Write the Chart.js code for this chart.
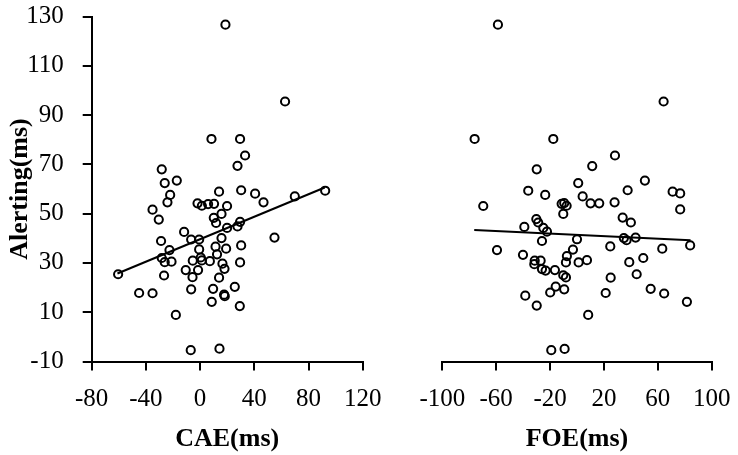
<!DOCTYPE html>
<html>
<head>
<meta charset="utf-8">
<script src="https://cdn.jsdelivr.net/npm/chart.js@4.4.1/dist/chart.umd.min.js"></script>
<style>
  html, body { margin: 0; padding: 0; background: #fff; }
  #wrap { position: relative; width: 738px; height: 455px; overflow: hidden; }
  canvas { position: absolute; top: 0; }
</style>
</head>
<body>
<div id="wrap">
  <canvas id="left" width="400" height="455" style="left:0px"></canvas>
  <canvas id="right" width="338" height="455" style="left:400px"></canvas>
</div>
<script>
// ---- Data ----
const yAxisTitle = "Alerting(ms)";
const caeTitle = "CAE(ms)";
const foeTitle = "FOE(ms)";

const yRange = [-10, 130];
const yStep = 20;
const caeRange = [-80, 120];
const caeStep = 40;
const foeRange = [-100, 100];
const foeStep = 40;

const caeX = [18.7, 62.7, 8.4, 29.5, 33.2, 27.6, -28.3, -17.2, -26.1, -22.1, 14.0, 30.3, 40.6, 69.9, 92.3,
  46.8, -24.1, -35.1, -30.5, -1.9, 1.3, 5.9, 10.3, 19.9, 15.8, 10.1, 11.8, 29.5, 27.6, 19.9,
  -11.8, -6.6, -0.7, -28.8, 15.8, 54.9, 30.3, 11.4, 19.2, -22.6, -0.7, 12.5, 0.5, -28.3, -26.1,
  -21.1, -5.4, 1.3, 7.2, 16.5, 29.5, -60.5, -10.6, -1.5, 18.0, -26.6, -5.6, 14.0, 25.6, 9.6,
  -6.6, -45.0, -35.1, 17.7, 18.2, 8.6, 29.3, -17.9, -6.9, 14.3];
const caeY = [126.7, 95.5, 80.3, 80.3, 73.6, 69.4, 68.0, 63.4, 62.4, 57.6, 58.9, 59.5, 58.1, 57.0, 59.3,
  54.6, 54.6, 51.6, 47.6, 54.2, 53.2, 53.9, 54.0, 53.1, 49.9, 48.3, 46.2, 46.7, 44.8, 44.2,
  42.6, 39.5, 39.5, 38.9, 40.1, 40.3, 37.1, 36.6, 35.8, 35.2, 35.5, 33.5, 32.2, 32.0, 30.3,
  30.5, 30.9, 31.0, 30.7, 29.7, 30.2, 25.4, 27.1, 27.1, 27.6, 24.9, 24.2, 24.0, 20.3, 19.5,
  19.3, 17.8, 17.7, 17.1, 16.5, 14.2, 12.5, 8.9, -5.4, -4.8];

const foeX = [-58.7, 64.3, -76.0, -17.6, 28.2, 11.3, -29.9, 50.4, 0.9, -36.2, -23.6, 4.2, 37.6, 71.0, 76.6,
  -69.6, -11.4, -9.5, -7.7, -10.2, 10.1, 16.5, 27.9, 76.6, -30.2, -28.8, -39.1, -25.0, -22.3, 33.9,
  40.0, -26.0, 0.0, 34.8, 36.8, 43.5, 84.0, -59.4, 24.7, 63.3, -3.0, -40.1, -7.5, 49.2, -31.4,
  -27.0, -31.7, -8.2, 1.2, 7.4, 38.8, -26.0, -23.3, -16.4, -10.2, -8.2, 44.3, 25.0, 54.7, -15.8,
  -9.5, -19.9, 21.3, 64.7, -38.4, -29.9, 81.6, 8.3, -19.1, -9.2];
const foeY = [126.7, 95.5, 80.3, 80.3, 73.6, 69.3, 68.0, 63.4, 62.4, 59.3, 57.6, 57.0, 59.5, 58.9, 58.2,
  53.1, 54.0, 54.3, 53.2, 49.9, 54.2, 54.2, 54.6, 51.7, 47.8, 46.4, 44.6, 44.2, 42.7, 48.4,
  46.4, 38.9, 39.6, 40.1, 39.2, 40.3, 37.1, 35.2, 36.7, 35.8, 35.4, 33.3, 32.8, 32.0, 30.9,
  30.9, 29.5, 30.2, 30.2, 31.1, 30.3, 27.5, 26.9, 27.1, 25.0, 24.1, 25.4, 24.0, 19.5, 20.4,
  19.3, 18.0, 17.8, 17.6, 16.7, 12.7, 14.2, 8.9, -5.4, -4.9];

// Fitted trend lines (end points)
const caeTrendX = [-61, 92];
const caeTrendY = [25.7, 60.6];
const foeTrendX = [-76.3, 84.3];
const foeTrendY = [43.4, 39.2];

// ---- Helpers ----
const pairs = (xs, ys) => xs.map((x, i) => ({ x: x, y: ys[i] }));
const FONT = "'Liberation Serif', 'Times New Roman', serif";

function axisCommon(min, max, step) {
  return {
    type: 'linear',
    min: min,
    max: max,
    ticks: {
      stepSize: step,
      color: '#000',
      font: { family: FONT, size: 25 },
      padding: 14,
      autoSkip: false,
      maxRotation: 0,
      minRotation: 0
    },
    grid: {
      display: true,
      drawOnChartArea: false,
      drawTicks: true,
      tickLength: 9,
      color: '#000',
      lineWidth: 2
    },
    border: { display: true, color: '#000', width: 2 }
  };
}

function clearPadding(s) {
  s.paddingTop = 0; s.paddingBottom = 0; s.paddingLeft = 0; s.paddingRight = 0;
}

function makePanel(canvasId, xs, ys, tx, ty, xRange, xStep, xTitle, showY, padding) {
  const xAxis = axisCommon(xRange[0], xRange[1], xStep);
  xAxis.position = 'bottom';
  xAxis.title = {
    display: true,
    text: xTitle,
    color: '#000',
    font: { family: FONT, size: 26, weight: 'bold' },
    padding: { top: 4, bottom: 0 }
  };
  xAxis.afterFit = (s) => { s.height = 93.5; clearPadding(s); };

  const yAxis = axisCommon(yRange[0], yRange[1], yStep);
  yAxis.position = 'left';
  yAxis.display = showY;
  yAxis.ticks.padding = 19;
  yAxis.title = {
    display: true,
    text: yAxisTitle,
    color: '#000',
    font: { family: FONT, size: 26, weight: 'bold' },
    padding: { top: 5, bottom: 0 }
  };
  yAxis.afterFit = showY ? (s) => { s.width = 91.7; clearPadding(s); } : (s) => { clearPadding(s); };

  return new Chart(document.getElementById(canvasId), {
    type: 'scatter',
    data: {
      datasets: [
        {
          label: 'trend',
          data: pairs(tx, ty),
          showLine: true,
          borderColor: '#000',
          borderWidth: 2,
          pointRadius: 0,
          fill: false,
          order: 2
        },
        {
          label: 'points',
          data: pairs(xs, ys),
          pointRadius: 4.1,
          pointBorderWidth: 2,
          borderColor: '#000',
          backgroundColor: 'rgba(0,0,0,0)',
          pointBackgroundColor: 'rgba(0,0,0,0)',
          pointBorderColor: '#000',
          order: 1
        }
      ]
    },
    options: {
      responsive: false,
      animation: false,
      devicePixelRatio: 1,
      layout: { padding: padding },
      plugins: { legend: { display: false }, tooltip: { enabled: false } },
      scales: { x: xAxis, y: yAxis }
    }
  });
}

makePanel('left', caeX, caeY, caeTrendX, caeTrendY, caeRange, caeStep, caeTitle, true,
  { left: 0, top: 16.5, right: 37.3, bottom: 0 });
makePanel('right', foeX, foeY, foeTrendX, foeTrendY, foeRange, foeStep, foeTitle, false,
  { left: 42.3, top: 16.5, right: 26.3, bottom: 0 });
</script>
</body>
</html>
